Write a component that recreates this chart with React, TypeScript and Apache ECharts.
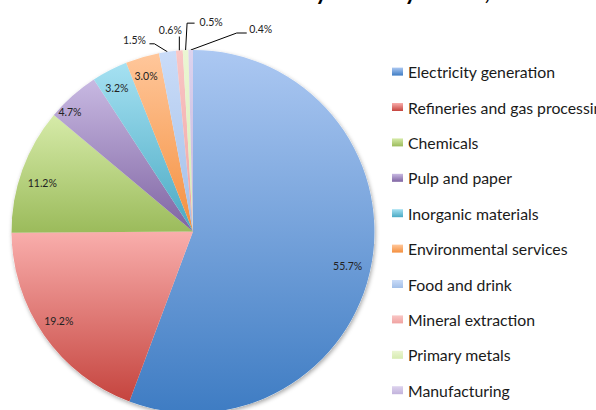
import React, { useEffect, useRef } from "react";
import * as echarts from "echarts";

const titleText = "Scottish CO2 emissions by industry sector, %";
const sectors = [
  "Electricity generation",
  "Refineries and gas processing",
  "Chemicals",
  "Pulp and paper",
  "Inorganic materials",
  "Environmental services",
  "Food and drink",
  "Mineral extraction",
  "Primary metals",
  "Manufacturing",
];
const shares = [55.7, 19.2, 11.2, 4.7, 3.2, 3.0, 1.5, 0.6, 0.5, 0.4];

const lightColors = ["#acc8f2", "#f9aeac", "#d6eba9", "#c8b9e2", "#a6e1f2", "#ffc79b", "#cadcf8", "#f9c6c5", "#ebf6d3", "#ddd3ee"];
const darkColors = ["#3e7cc3", "#c5443e", "#9bbb5b", "#7f64a2", "#49a9c3", "#f48f3e", "#a2bfe8", "#f0a3a1", "#d6ebb0", "#c2b3dc"];

// label offsets (relative to the slice edge anchor) for the small outside labels
const outsideOffsets: Record<number, { dx: number; dy: number; line: number[][] }> = {
  6: { dx: -33, dy: -12, line: [[-13, -8], [-18, -8]] },
  7: { dx: -9, dy: -21, line: [[0, -14]] },
  8: { dx: 25.5, dy: -28, line: [[1.5, -27], [9, -27]] },
  9: { dx: 70, dy: -21, line: [[46, -17], [56, -17]] },
};
// small nudges of the inside labels (best-fit placement)
const insideNudges: Record<number, { dx: number; dy: number }> = {
  0: { dx: -4, dy: 6 },
  1: { dx: -2, dy: -3 },
  2: { dx: 1, dy: 6 },
  3: { dx: -16, dy: 1 },
  4: { dx: -2, dy: 0 },
  5: { dx: -2, dy: -1 },
};

const fontFamily = "Lato, 'Open Sans', sans-serif";

export default function App() {
  const ref = useRef<HTMLDivElement>(null);
  useEffect(() => {
    if (!ref.current) return;
    const chart = echarts.init(ref.current, undefined, { renderer: "svg" });
    const grad = (i: number) =>
      new echarts.graphic.LinearGradient(0, 0, 0, 1, [
        { offset: 0, color: lightColors[i] },
        { offset: 1, color: darkColors[i] },
      ]);
    const fmt = (p: any) => Number(p.value).toFixed(1) + "%";
    const center = [193, 231.5];
    const R = 181.5;

    const mainData = sectors.map((name, i) => {
      const small = shares[i] < 2;
      return {
        name,
        value: shares[i],
        itemStyle: { color: grad(i) },
        label: { show: small },
        labelLine: { show: small },
      };
    });
    const labelData = sectors.map((name, i) => ({
      name,
      value: shares[i],
      label: { show: shares[i] >= 2 },
    }));
    const shadowData = sectors.map((name, i) => ({ name, value: shares[i] }));

    chart.setOption({
      animation: false,
      title: {
        text: titleText,
        left: 281,
        textAlign: "center",
        top: -26,
        textStyle: { fontFamily, fontSize: 23, fontWeight: "bold", color: "#000" },
      },
      legend: {
        orient: "vertical",
        left: 392,
        top: 63.6,
        padding: 0,
        itemWidth: 11,
        itemHeight: 8,
        itemGap: 19.4,
        icon: "rect",
        data: sectors,
        selectedMode: false,
        textStyle: { fontFamily, fontSize: 15.8, color: "#1a1a1a", lineHeight: 16 },
      },
      series: [
        {
          type: "pie",
          name: "main",
          center,
          radius: [0, R],
          startAngle: 90,
          clockwise: true,
          avoidLabelOverlap: false,
          z: 3,
          data: mainData,
          itemStyle: { borderWidth: 0 },
          label: {
            position: "outside",
            formatter: fmt,
            fontFamily,
            fontSize: 10.5,
            color: "#222",
          },
          labelLine: {
            length: 10,
            length2: 10,
            lineStyle: { color: "#000", width: 1 },
          },
          labelLayout: (params: any) => {
            const off = outsideOffsets[params.dataIndex];
            const pts = params.labelLinePoints;
            if (!off || !pts || !pts.length) return {};
            const ax = pts[0][0];
            const ay = pts[0][1];
            return {
              x: ax + off.dx,
              y: ay + off.dy,
              align: "center",
              verticalAlign: "middle",
              labelLinePoints: [[ax, ay], ...off.line.map((p) => [ax + p[0], ay + p[1]])],
            };
          },
          emphasis: { disabled: true },
        },
        {
          type: "pie",
          name: "labels",
          center,
          radius: [135, R],
          startAngle: 90,
          clockwise: true,
          silent: true,
          avoidLabelOverlap: false,
          z: 4,
          data: labelData,
          itemStyle: { color: "rgba(0,0,0,0)" },
          label: {
            position: "inside",
            formatter: fmt,
            fontFamily,
            fontSize: 10.5,
            color: "#222",
          },
          labelLayout: (params: any) => insideNudges[params.dataIndex] || {},
          labelLine: { show: false },
          emphasis: { disabled: true },
        },
        {
          type: "pie",
          name: "shadow",
          center,
          radius: [0, R],
          startAngle: 90,
          clockwise: true,
          silent: true,
          z: 1,
          data: shadowData,
          label: { show: false },
          labelLine: { show: false },
          itemStyle: {
            color: "#ffffff",
            shadowBlur: 4,
            shadowOffsetX: 1,
            shadowOffsetY: 2,
            shadowColor: "rgba(0,0,0,0.35)",
          },
          emphasis: { disabled: true },
        },
      ],
    });
    return () => chart.dispose();
  }, []);
  return (
    <div
      ref={ref}
      style={{ position: "fixed", left: 0, top: 0, width: 596, height: 410, background: "#fff" }}
    />
  );
}
